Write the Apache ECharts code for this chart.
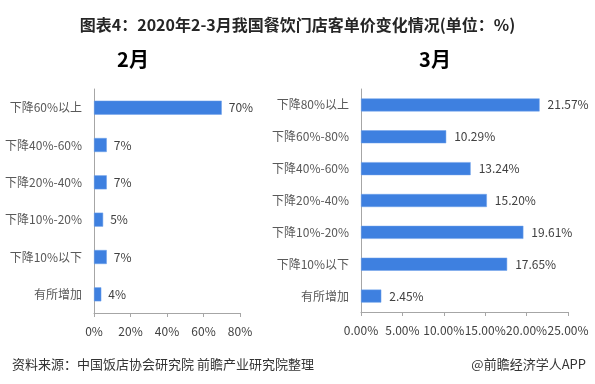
<!DOCTYPE html>
<html><head><meta charset="utf-8">
<script src="https://cdn.jsdelivr.net/npm/echarts@6/dist/echarts.min.js"></script>
<style>html,body{margin:0;padding:0;background:#fff}#c{width:595px;height:384px}</style>
</head><body><div id="c"></div>
<script>
const titleText = '图表4：2020年2-3月我国餐饮门店客单价变化情况(单位：%)';
const febCategories = ['下降60%以上','下降40%-60%','下降20%-40%','下降10%-20%','下降10%以下','有所增加'];
const febValues = [70, 7, 7, 5, 7, 4];
const febTicks = [0, 20, 40, 60, 80];
const marCategories = ['下降80%以上','下降60%-80%','下降40%-60%','下降20%-40%','下降10%-20%','下降10%以下','有所增加'];
const marValues = [21.57, 10.29, 13.24, 15.20, 19.61, 17.65, 2.45];
const marTicks = [0, 5, 10, 15, 20, 25];

const FONT = '"Noto Sans CJK SC", "Noto Sans", sans-serif';
const BAR = '#3E80E0';
const chart = echarts.init(document.getElementById('c'));

function yAxis(cats, gi) {
  return {
    type: 'category', gridIndex: gi, inverse: true, data: cats,
    axisLine: {lineStyle: {color: '#a6a6a6'}},
    axisTick: {lineStyle: {color: '#a6a6a6'}, length: 5},
    axisLabel: {color: '#595959', fontSize: 12, fontFamily: FONT, margin: 12}
  };
}
function xAxis(ticks, gi, fmt) {
  return {
    type: 'value', gridIndex: gi, min: ticks[0], max: ticks[ticks.length-1],
    interval: ticks[1]-ticks[0],
    axisLine: {show: true, lineStyle: {color: '#a6a6a6'}},
    axisTick: {show: true, lineStyle: {color: '#a6a6a6'}, length: 4},
    splitLine: {show: false},
    axisLabel: {color: '#404040', fontSize: 12, fontFamily: FONT, margin: 12, formatter: fmt}
  };
}

chart.setOption({
  animation: false,
  title: [
    {text: titleText, left: 'center', top: 12, textStyle: {fontSize: 16, fontWeight: 'bold', color: '#262626', fontFamily: FONT}},
    {text: '2月', left: 128, top: 44, textAlign: 'center', textStyle: {fontSize: 20, fontWeight: 'bold', color: '#000', fontFamily: FONT}},
    {text: '3月', left: 430, top: 44, textAlign: 'center', textStyle: {fontSize: 20, fontWeight: 'bold', color: '#000', fontFamily: FONT}},
    {text: '资料来源：中国饭店协会研究院 前瞻产业研究院整理', left: 7, top: 353, textStyle: {fontSize: 13, fontWeight: 'normal', color: '#333', fontFamily: FONT}},
    {text: '@前瞻经济学人APP', right: 4, top: 353, textStyle: {fontSize: 13, fontWeight: 'normal', color: '#333', fontFamily: FONT}}
  ],
  grid: [
    {left: 94, top: 89, width: 146, height: 224},
    {left: 361, top: 89, width: 207, height: 223}
  ],
  xAxis: [
    xAxis(febTicks, 0, v => v + '%'),
    xAxis(marTicks, 1, v => v.toFixed(2) + '%')
  ],
  yAxis: [yAxis(febCategories, 0), yAxis(marCategories, 1)],
  series: [
    {type: 'bar', xAxisIndex: 0, yAxisIndex: 0, data: febValues, barWidth: 14,
     itemStyle: {color: BAR, borderColor: '#6fa0ea', borderWidth: 0.5},
     label: {show: true, position: 'right', distance: 7, color: '#404040', fontSize: 12, fontFamily: FONT, formatter: p => p.value + '%'}},
    {type: 'bar', xAxisIndex: 1, yAxisIndex: 1, data: marValues, barWidth: 13,
     itemStyle: {color: BAR, borderColor: '#6fa0ea', borderWidth: 0.5},
     label: {show: true, position: 'right', distance: 8, color: '#404040', fontSize: 12, fontFamily: FONT, formatter: p => p.value.toFixed(2) + '%'}}
  ]
});
</script></body></html>
